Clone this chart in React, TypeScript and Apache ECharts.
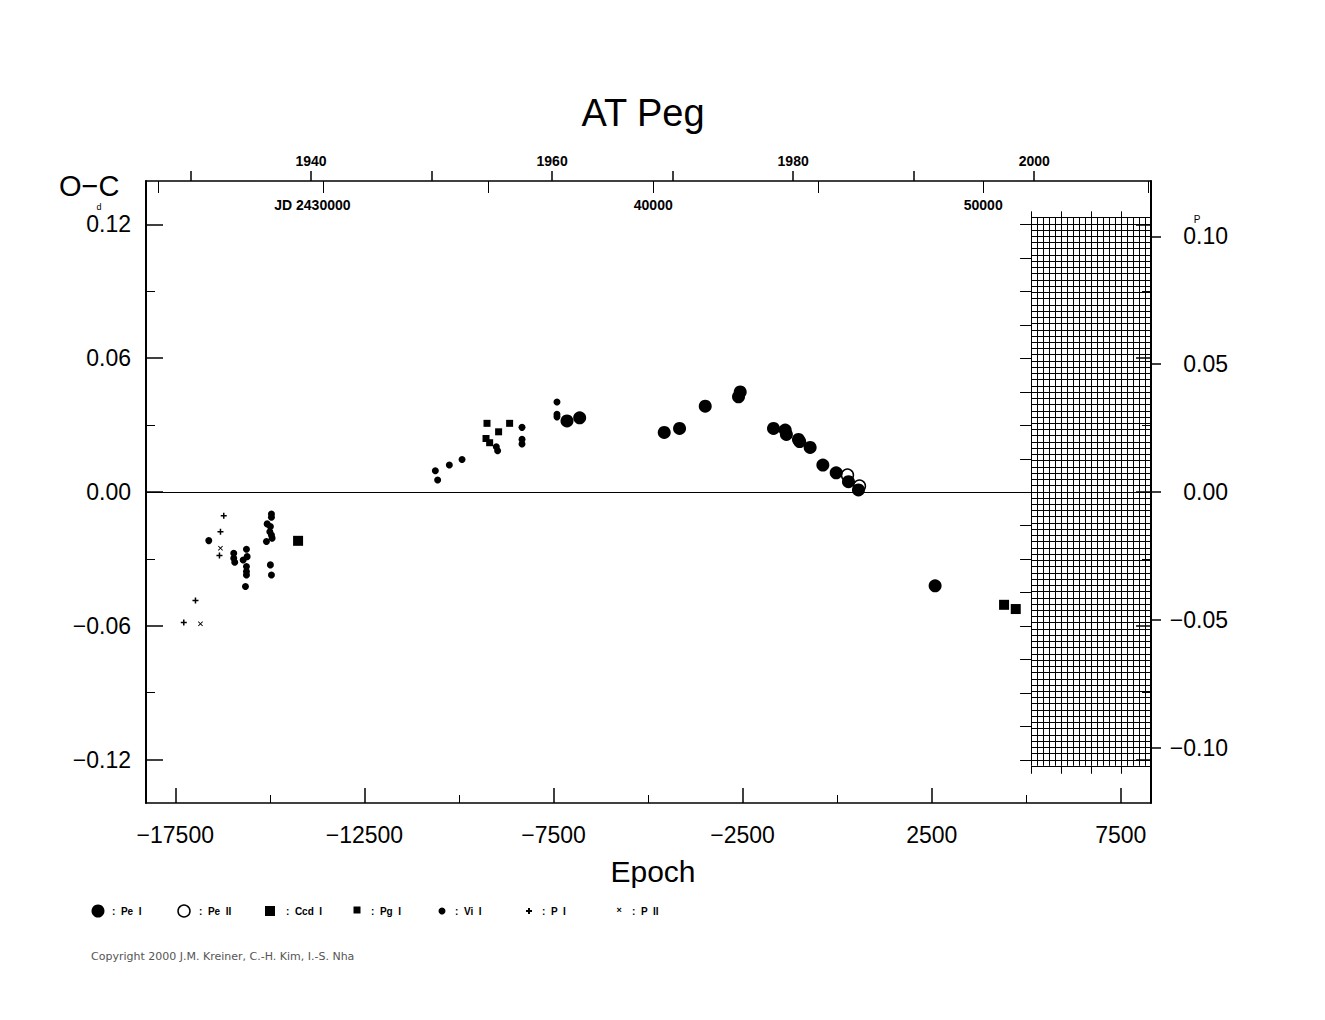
import React, { useEffect, useRef } from "react";
import * as echarts from "echarts";

// ---- ephemeris / scale helpers ----
const PERIOD = 1.1462; // days
const JD0 = 45573; // JD - 2400000 at epoch 0
const YEAR0 = 1983.65; // calendar year at epoch 0

const X_MIN = -18274;
const X_MAX = 8298;
const Y_MIN = -0.1395;
const Y_MAX = 0.1395;

// ---- tick lists ----
const epochLabels = [-17500, -12500, -7500, -2500, 2500, 7500];
const epochMinor = [-15000, -10000, -5000, 0, 5000];
const ocMajor = [-0.12, -0.06, 0, 0.06, 0.12];
const ocMinor = [-0.09, -0.03, 0.03, 0.09];
const phaseTicks = [-0.1, -0.05, 0, 0.05, 0.1];
const yearTicks = [1930, 1940, 1950, 1960, 1970, 1980, 1990, 2000];
const yearLabels = [1940, 1960, 1980, 2000];
const jdTicks = [25000, 30000, 35000, 40000, 45000, 50000, 55000];
const jdLabels = [30000, 40000, 50000];

// ---- data: [epoch, O-C (days)] ----
const peI: [number, number][] = [
  [-7143, 0.0319], [-6808, 0.0333], [-4572, 0.0267], [-4167, 0.0285],
  [-3488, 0.0385], [-2608, 0.0427], [-2563, 0.0449], [-1683, 0.0285],
  [-1374, 0.0278], [-1342, 0.0258], [-1023, 0.0236], [-991, 0.0226],
  [-714, 0.02], [-378, 0.0121], [-26, 0.0086], [299, 0.0046],
  [563, 0.0009], [2590, -0.0421],
];
const peII: [number, number][] = [[272, 0.0076], [589, 0.0027]];
const ccdI: [number, number][] = [[-14253, -0.0219], [4413, -0.0506], [4722, -0.0525]];
const pgI: [number, number][] = [
  [-9258, 0.0308], [-9284, 0.024], [-9188, 0.0221], [-8951, 0.027], [-8660, 0.0308],
];
const viI: [number, number][] = [
  [-16614, -0.0218],
  [-15954, -0.0275], [-15954, -0.0297], [-15928, -0.0315],
  [-15618, -0.0257], [-15705, -0.0305], [-15600, -0.029], [-15618, -0.0334],
  [-15618, -0.0357], [-15618, -0.0372], [-15644, -0.0424],
  [-14958, -0.0099], [-14958, -0.0113], [-15071, -0.0143], [-14985, -0.0155],
  [-15000, -0.0178], [-14958, -0.0193], [-14940, -0.0207], [-15090, -0.0222],
  [-14985, -0.0327], [-14958, -0.0372],
  [-10624, 0.0095], [-10563, 0.0054], [-10254, 0.0121], [-9918, 0.0146],
  [-9012, 0.0203], [-8977, 0.0185],
  [-8332, 0.029], [-8332, 0.0236], [-8332, 0.0215],
  [-7408, 0.0404], [-7408, 0.0349], [-7408, 0.0337],
];
const pI: [number, number][] = [
  [-16218, -0.0107], [-16305, -0.0178], [-16332, -0.0285], [-16966, -0.0487], [-17275, -0.0585],
];
const pII: [number, number][] = [[-16305, -0.0252], [-16834, -0.0591]];

// hatched (future) region
const HATCH_X0 = 5127;
const HATCH_Y0 = -0.1228;
const HATCH_Y1 = 0.1232;
const HATCH_COLS = 20;
const HATCH_ROWS = 88;
const HATCH_TICK_STEP = 793; // epochs
const HATCH_SIDE_STEP = 0.015; // days

const FONT = "Liberation Sans";
const GRID = { left: 146, top: 181, width: 1005, height: 622 };

const yearOf = (e: number) => YEAR0 + (e * PERIOD) / 365.25;
const jdOf = (e: number) => JD0 + e * PERIOD;
const minus = (s: string) => s.replace("-", "\u2212");
const yPix = (v: number) => GRID.top + ((Y_MAX - v) / (Y_MAX - Y_MIN)) * GRID.height;
const yPixP = (v: number) => yPix(v * PERIOD);

const PLUS = "path://M3,0H5V3H8V5H5V8H3V5H0V3H3Z";
const CROSS = "path://M0,1L1,0L4,3L7,0L8,1L5,4L8,7L7,8L4,5L1,8L0,7L3,4Z";

const black = "#000";

function txt(text: string, x: number, y: number, size: number, opts: any = {}) {
  return {
    type: "text",
    x,
    y,
    silent: true,
    style: {
      text,
      fill: opts.fill || black,
      fontSize: size,
      fontFamily: opts.family || FONT,
      fontWeight: opts.weight || "normal",
      align: opts.align || "left",
      textAlign: opts.align || "left",
      verticalAlign: "middle",
      textVerticalAlign: "middle",
    },
  };
}

function buildOption(): any {
  const legendY = 911;
  const lw = { weight: "bold" };
  const graphic: any[] = [
    txt("AT Peg", 643, 113, 38, { align: "center" }),
    txt("O\u2212C", 59, 186, 29),
    txt("Epoch", 653, 871, 30, { align: "center" }),
    txt("d", 99, yPix(0.12) - 17, 9, { align: "center" }),
    txt("P", 1197, yPixP(0.1) - 17, 10, { align: "center" }),
    // legend
    { type: "circle", shape: { cx: 98, cy: legendY, r: 6.5 }, style: { fill: black } },
    txt(":  Pe  I", 112, legendY, 10, lw),
    { type: "circle", shape: { cx: 184, cy: legendY, r: 6 }, style: { fill: "#fff", stroke: black, lineWidth: 1.5 } },
    txt(":  Pe  II", 199, legendY, 10, lw),
    { type: "rect", shape: { x: 265, y: legendY - 5, width: 10, height: 10 }, style: { fill: black } },
    txt(":  Ccd  I", 286, legendY, 10, lw),
    { type: "rect", shape: { x: 353.5, y: legendY - 4.5, width: 7, height: 7 }, style: { fill: black } },
    txt(":  Pg  I", 371, legendY, 10, lw),
    { type: "circle", shape: { cx: 442, cy: legendY, r: 3.5 }, style: { fill: black } },
    txt(":  Vi  I", 455, legendY, 10, lw),
    { type: "rect", shape: { x: 526, y: legendY - 1, width: 6, height: 2 }, style: { fill: black } },
    { type: "rect", shape: { x: 528, y: legendY - 3, width: 2, height: 6 }, style: { fill: black } },
    txt(":  P  I", 542, legendY, 10, lw),
    txt("\u00d7", 619, legendY - 1, 9, { align: "center", weight: "bold" }),
    txt(":  P  II", 632, legendY, 10, lw),
    txt("Copyright 2000 J.M. Kreiner, C.-H. Kim, I.-S. Nha", 91, 956, 11, {
      family: "DejaVu Sans",
      fill: "#555",
    }),
  ];

  const lineStyle = { color: black, width: 1.5 };
  const hiddenAxisBase = {
    axisLine: { show: false, onZero: false },
    axisLabel: { show: false },
    splitLine: { show: false },
  };
  const solid = { color: black, opacity: 1 };

  return {
    animation: false,
    backgroundColor: "#fff",
    grid: { ...GRID, containLabel: false },
    xAxis: [
      {
        type: "value",
        position: "bottom",
        min: X_MIN,
        max: X_MAX,
        axisLine: { show: true, onZero: false, lineStyle },
        axisTick: { show: true, inside: true, length: 15, customValues: epochLabels, lineStyle },
        axisLabel: {
          customValues: epochLabels,
          formatter: (v: number) => minus(String(v)),
          fontSize: 23,
          fontFamily: FONT,
          color: black,
          margin: 20,
        },
        splitLine: { show: false },
      },
      {
        type: "value",
        position: "bottom",
        min: X_MIN,
        max: X_MAX,
        ...hiddenAxisBase,
        axisTick: { show: true, inside: true, length: 8, customValues: epochMinor, lineStyle: { color: black, width: 1 } },
      },
      {
        type: "value",
        position: "top",
        min: yearOf(X_MIN),
        max: yearOf(X_MAX),
        offset: 0,
        axisLine: { show: true, onZero: false, lineStyle },
        axisTick: { show: true, inside: false, length: 10, customValues: yearTicks, lineStyle },
        axisLabel: {
          customValues: yearLabels,
          formatter: (v: number) => String(Math.round(v)),
          fontSize: 14,
          fontWeight: "bold",
          fontFamily: FONT,
          color: black,
          margin: 13,
        },
        splitLine: { show: false },
      },
      {
        type: "value",
        position: "top",
        min: jdOf(X_MIN),
        max: jdOf(X_MAX),
        offset: 0,
        axisLine: { show: false, onZero: false },
        axisTick: { show: true, inside: true, length: 12, customValues: jdTicks, lineStyle: { color: black, width: 1 } },
        axisLabel: {
          inside: true,
          customValues: jdLabels,
          formatter: (v: number) =>
            v === 30000 ? "{h|JD }" + String(2400000 + Math.round(v)) + "{g|JD }" : String(Math.round(v)),
          fontSize: 14,
          fontWeight: "bold",
          fontFamily: FONT,
          color: black,
          margin: 17,
          rich: {
            h: { fontSize: 14, fontWeight: "bold", fontFamily: FONT, color: black },
            g: { fontSize: 14, fontWeight: "bold", fontFamily: FONT, color: "rgba(0,0,0,0)" },
          },
        },
        splitLine: { show: false },
      },
    ],
    yAxis: [
      {
        type: "value",
        position: "left",
        min: Y_MIN,
        max: Y_MAX,
        axisLine: { show: true, onZero: false, lineStyle: { color: black, width: 2 } },
        axisTick: { show: true, inside: true, length: 17, customValues: ocMajor, lineStyle },
        axisLabel: {
          customValues: ocMajor,
          formatter: (v: number) => minus(v.toFixed(2)),
          fontSize: 23,
          fontFamily: FONT,
          color: black,
          margin: 15,
        },
        splitLine: { show: false },
      },
      {
        type: "value",
        position: "left",
        min: Y_MIN,
        max: Y_MAX,
        ...hiddenAxisBase,
        axisTick: { show: true, inside: true, length: 9, customValues: ocMinor, lineStyle: { color: black, width: 1 } },
      },
      {
        type: "value",
        position: "right",
        min: Y_MIN,
        max: Y_MAX,
        offset: 0,
        axisLine: { show: true, onZero: false, lineStyle: { color: black, width: 2 } },
        axisTick: { show: true, inside: true, length: 15, customValues: ocMajor, lineStyle },
        axisLabel: { show: false },
        splitLine: { show: false },
      },
      {
        type: "value",
        position: "right",
        min: Y_MIN,
        max: Y_MAX,
        offset: 0,
        ...hiddenAxisBase,
        axisTick: { show: true, inside: true, length: 9, customValues: ocMinor, lineStyle: { color: black, width: 1 } },
      },
      {
        type: "value",
        position: "right",
        min: Y_MIN / PERIOD,
        max: Y_MAX / PERIOD,
        offset: 0,
        axisLine: { show: false, onZero: false },
        axisTick: { show: true, inside: false, length: 10, customValues: phaseTicks, lineStyle },
        axisLabel: {
          customValues: phaseTicks,
          formatter: (v: number) => minus(v.toFixed(2)),
          fontSize: 23,
          fontFamily: FONT,
          color: black,
          align: "right",
          margin: 77,
        },
        splitLine: { show: false },
      },
    ],
    graphic,
    series: [
      {
        type: "custom",
        name: "hatch",
        silent: true,
        coordinateSystem: "cartesian2d",
        xAxisIndex: 0,
        yAxisIndex: 0,
        clip: false,
        z: 1,
        data: [[HATCH_X0, X_MAX, HATCH_Y0, HATCH_Y1]],
        renderItem: (_params: any, api: any) => {
          const xa = api.value(0), xb = api.value(1), ya = api.value(2), yb = api.value(3);
          const [x0, yTop] = api.coord([xa, yb]);
          const [x1, yBot] = api.coord([xb, ya]);
          const children: any[] = [];
          const ls = { stroke: black, lineWidth: 1 };
          for (let i = 0; i <= HATCH_COLS; i++) {
            const x = Math.round(x0 + ((x1 - x0) * i) / HATCH_COLS) + 0.5;
            children.push({ type: "line", shape: { x1: x, y1: yTop, x2: x, y2: yBot }, style: ls });
          }
          for (let j = 0; j <= HATCH_ROWS; j++) {
            const y = Math.round(yTop + ((yBot - yTop) * j) / HATCH_ROWS) + 0.5;
            children.push({ type: "line", shape: { x1: x0, y1: y, x2: x1, y2: y }, style: ls });
          }
          for (let e = xa; e < xb; e += HATCH_TICK_STEP) {
            const x = Math.round(api.coord([e, 0])[0]) + 0.5;
            children.push({ type: "line", shape: { x1: x, y1: yTop, x2: x, y2: yTop - 6 }, style: ls });
            children.push({ type: "line", shape: { x1: x, y1: yBot, x2: x, y2: yBot + 8 }, style: ls });
          }
          for (let v = -0.12; v <= 0.1201; v += HATCH_SIDE_STEP) {
            const y = Math.round(api.coord([xa, v])[1]) + 0.5;
            children.push({ type: "line", shape: { x1: x0 - 11, y1: y, x2: x0, y2: y }, style: ls });
          }
          return { type: "group", children };
        },
      },
      {
        type: "scatter",
        name: "Pe II",
        xAxisIndex: 0,
        yAxisIndex: 0,
        z: 3,
        symbol: "circle",
        symbolSize: 12,
        itemStyle: { color: "#fff", borderColor: black, borderWidth: 1.5, opacity: 1 },
        data: peII,
      },
      {
        type: "scatter",
        name: "Pe I",
        xAxisIndex: 0,
        yAxisIndex: 0,
        z: 4,
        symbol: "circle",
        symbolSize: 13,
        itemStyle: solid,
        data: peI,
        markLine: {
          silent: true,
          symbol: "none",
          label: { show: false },
          lineStyle: { color: black, width: 1, type: "solid" },
          data: [{ yAxis: 0 }],
        },
      },
      {
        type: "scatter",
        name: "Ccd I",
        xAxisIndex: 0,
        yAxisIndex: 0,
        z: 4,
        symbol: "rect",
        symbolSize: 10,
        itemStyle: solid,
        data: ccdI,
      },
      {
        type: "scatter",
        name: "Pg I",
        xAxisIndex: 0,
        yAxisIndex: 0,
        z: 4,
        symbol: "rect",
        symbolSize: 7,
        itemStyle: solid,
        data: pgI,
      },
      {
        type: "scatter",
        name: "Vi I",
        xAxisIndex: 0,
        yAxisIndex: 0,
        z: 4,
        symbol: "circle",
        symbolSize: 7,
        itemStyle: solid,
        data: viI,
      },
      {
        type: "scatter",
        name: "P I",
        xAxisIndex: 0,
        yAxisIndex: 0,
        z: 4,
        symbol: PLUS,
        symbolSize: 6,
        itemStyle: solid,
        data: pI,
      },
      {
        type: "scatter",
        name: "P II",
        xAxisIndex: 0,
        yAxisIndex: 0,
        z: 4,
        symbol: CROSS,
        symbolSize: 5,
        itemStyle: solid,
        data: pII,
      },
    ],
  };
}

export default function App() {
  const ref = useRef<HTMLDivElement>(null);
  useEffect(() => {
    document.body.style.margin = "0";
    if (!ref.current) return;
    const chart = echarts.init(ref.current, null, { renderer: "svg" });
    chart.setOption(buildOption());
    return () => chart.dispose();
  }, []);
  return <div ref={ref} style={{ width: 1325, height: 1020, background: "#fff" }} />;
}
